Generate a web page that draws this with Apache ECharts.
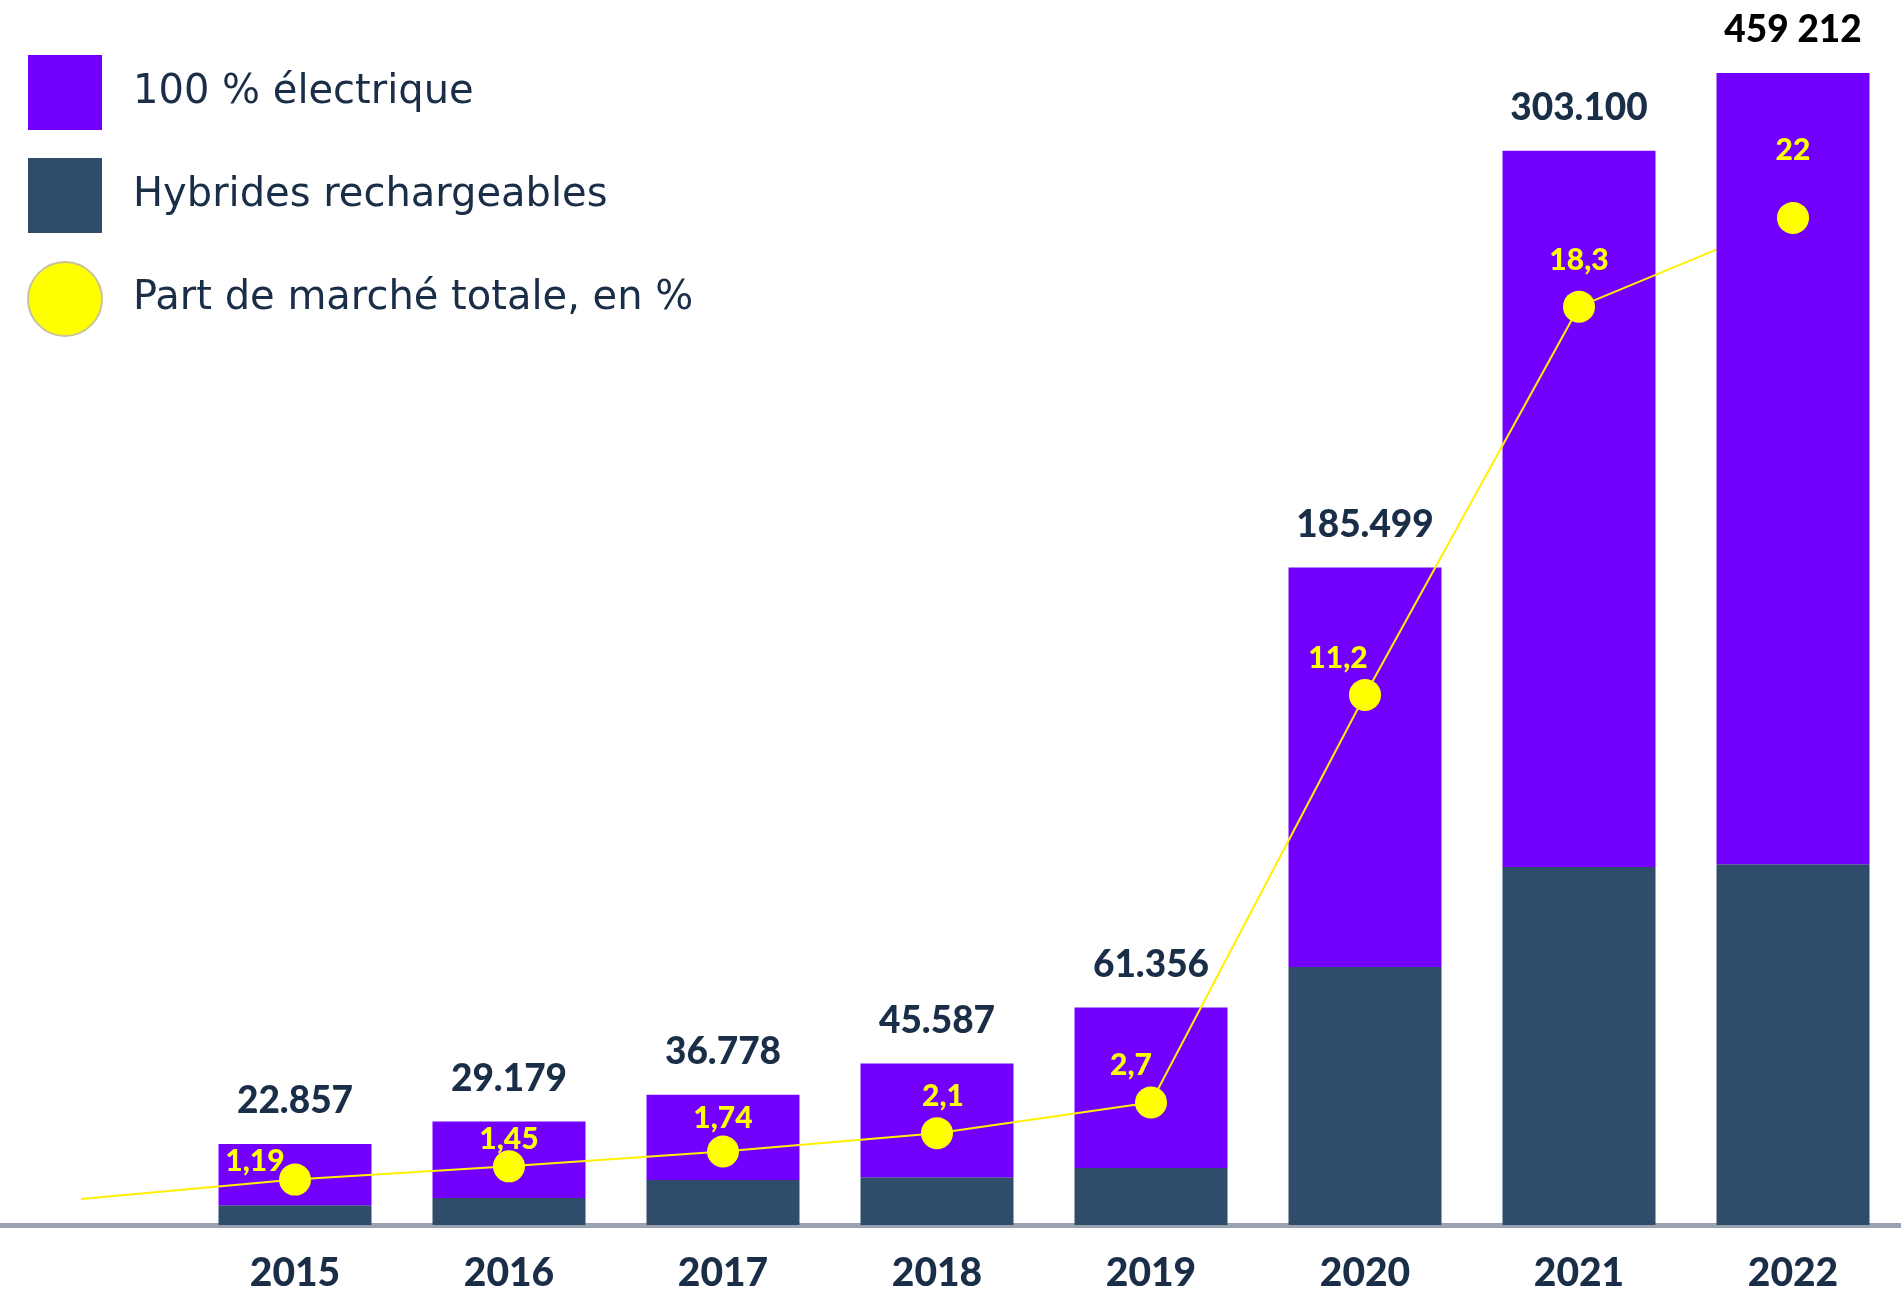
<!DOCTYPE html>
<html><head><meta charset="utf-8">
<script src="https://cdn.jsdelivr.net/npm/echarts@6/dist/echarts.min.js"></script>
<style>html,body{margin:0;padding:0;background:#fff}#c{width:1901px;height:1291px}</style>
</head><body><div id="c"></div>
<script>
// ---- data ----
const years = ['2015','2016','2017','2018','2019','2020','2021','2022'];
const hybrid = [5600, 7600, 12700, 13500, 16100, 72800, 101000, 101800];
const electric = [17257, 21579, 24078, 32087, 45256, 112699, 202100, 357412];
const totalLabels = ['22.857','29.179','36.778','45.587','61.356','185.499','303.100','459 212'];
const shareLabels = ['1,19','1,45','1,74','2,1','2,7','11,2','18,3','22'];
const shareDrawn = [1.19, 1.45, 1.74, 2.1, 2.7, 10.69, 18.3, 20.04];
const shareLeadIn = 0.81; // line enters from the left, before 2015

// ---- style ----
const NAVY = '#1a2e48';
const PURPLE = '#7300ff';
const DARK = '#2f4d6b';
const YELLOW = '#ffff00';
const FONT = 'Lato';
const LEG_FONT = 'DejaVu Sans';
const NAME_E = '100 % électrique', NAME_H = 'Hybrides rechargeables', NAME_P = 'Part de marché totale, en %';
const labelNudges = [[-40,-18],[0,-27],[0,-33],[6,-37],[-20,-37],[-27,-37],[0,-46],[0,-68]];

const cats = [''].concat(years);
const last = years.length - 1;
const pad = v => ['-'].concat(v);
const elecMain = pad(electric.map((v, i) => i === last ? '-' : v));
const elecLast = pad(electric.map((v, i) => i === last ? v : '-'));

const chart = echarts.init(document.getElementById('c'), null, {renderer: 'canvas'});
chart.setOption({
  animation: false,
  backgroundColor: '#ffffff',
  textStyle: {fontFamily: FONT},
  grid: {left: -26, right: 1, top: 73, bottom: 66, containLabel: false, outerBoundsMode: 'none'},
  legend: {
    left: 27, top: 55, padding: 0, orient: 'vertical', itemWidth: 74, itemHeight: 75, itemGap: 28,
    selectedMode: false,
    textStyle: {fontFamily: LEG_FONT, fontSize: 40, color: NAVY, padding: [6, 0, 0, 26]},
    data: [
      {name: NAME_E, icon: 'rect'},
      {name: NAME_H, icon: 'rect'},
      {name: NAME_P, icon: 'circle', itemStyle: {color: YELLOW, borderColor: '#c8c49a', borderWidth: 2, opacity: 1}}
    ]
  },
  xAxis: {
    type: 'category', data: cats,
    axisLine: {show: true, lineStyle: {color: '#9aa2b1', width: 5}},
    axisTick: {show: false},
    splitLine: {show: false},
    axisLabel: {
      margin: 29, fontFamily: FONT, fontSize: 39, fontWeight: 900, color: NAVY,
      interval: 0
    }
  },
  yAxis: [
    {type: 'value', min: 0, max: 325000, show: false},
    {type: 'value', min: 0.30, max: 22.88, show: false}
  ],
  series: [
    {
      name: NAME_H, type: 'bar', stack: 'total', data: pad(hybrid), barWidth: 153,
      itemStyle: {color: DARK}, z: 2
    },
    {
      name: NAME_E, type: 'bar', stack: 'total', data: elecMain, barWidth: 153,
      itemStyle: {color: PURPLE}, z: 2,
      label: {
        show: true, position: 'top', distance: 24,
        fontFamily: FONT, fontSize: 37, fontWeight: 900, color: NAVY,
        formatter: p => totalLabels[p.dataIndex - 1]
      }
    },
    {
      name: NAME_E, type: 'bar', stack: 'total', data: elecLast, barWidth: 153,
      itemStyle: {color: PURPLE}, z: 4,
      label: {
        show: true, position: 'top', distance: 24,
        fontFamily: FONT, fontSize: 37, fontWeight: 900, color: '#000000',
        formatter: p => totalLabels[p.dataIndex - 1]
      }
    },
    {
      name: 'ligne', type: 'line', yAxisIndex: 1, data: [shareLeadIn].concat(shareDrawn),
      symbol: 'none', lineStyle: {color: '#fff000', width: 2}, z: 3
    },
    {
      name: NAME_P, type: 'scatter', yAxisIndex: 1, symbolSize: 32, z: 5,
      itemStyle: {color: YELLOW, opacity: 1},
      data: ['-'].concat(shareDrawn.map((v, i) => ({value: v, label: {offset: labelNudges[i]}}))),
      label: {
        show: true, position: 'inside',
        fontFamily: FONT, fontSize: 30, fontWeight: 900, color: YELLOW,
        formatter: p => shareLabels[p.dataIndex - 1]
      }
    }
  ]
});
</script>
</body></html>
